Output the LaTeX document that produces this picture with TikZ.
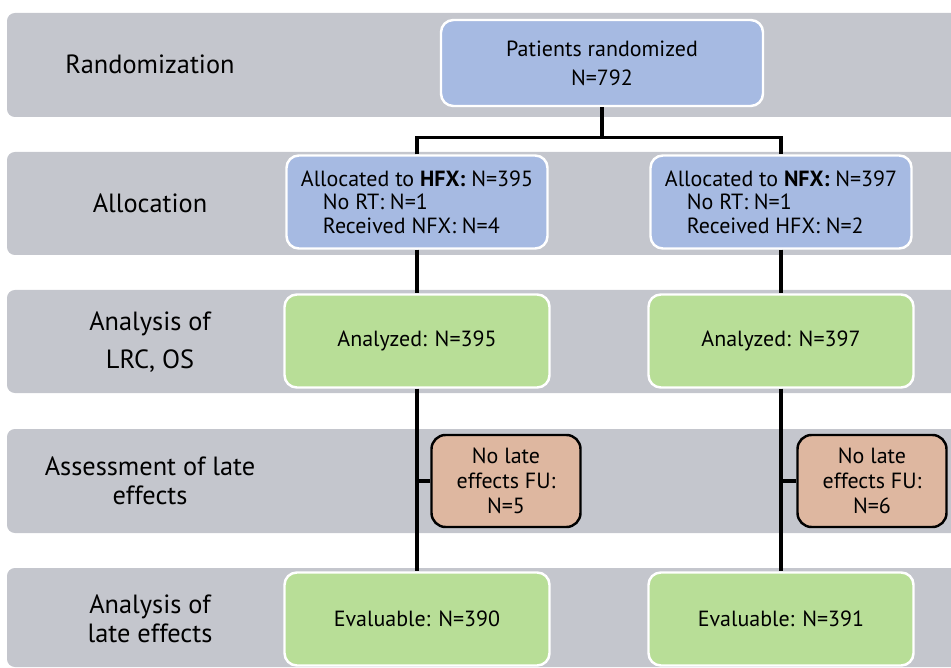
\documentclass[tikz,border=0pt]{standalone}
\usepackage{fontspec}
\setmainfont{PT Sans}
\definecolor{bandgray}{HTML}{C4C6CD}
\definecolor{randblue}{HTML}{A6BAE2}
\definecolor{okgreen}{HTML}{B8DE97}
\definecolor{lossorange}{HTML}{DEB7A0}
\tikzset{
  band/.style={fill=bandgray, rounded corners=4.5pt},
  phase/.style={align=center, inner sep=0pt, font=\fontsize{15}{16.4}\selectfont},
  flowbox/.style={draw=white, line width=1.4pt, rounded corners=7pt, inner sep=0pt,
                  font=\fontsize{12.5}{13.3}\selectfont},
  bluebox/.style={flowbox, fill=randblue, minimum width=52.2mm, minimum height=18.6mm, align=left},
  greenbox/.style={flowbox, fill=okgreen, minimum width=53mm, minimum height=18.6mm},
  lossbox/.style={flowbox, draw=black, fill=lossorange, minimum width=29.8mm, minimum height=18.4mm,
                  rounded corners=8pt, align=center, font=\fontsize{12.5}{14.2}\selectfont},
  conn/.style={line width=1.8pt},
}

\begin{document}
\begin{tikzpicture}[x=0.2mm, y=-0.2mm]
    \useasboundingbox (0,0) rectangle (951,668);
    \clip (0,0) rectangle (951,668);
    \foreach \ya/\yb in {13/117, 152/255, 290/393, 429/533, 568/667}
      \fill[band] (7,\ya) rectangle (975,\yb);
    \node[phase] (lrand) at (150,64) {Randomization};
    \node[phase] (lalloc) at (150,203) {Allocation};
    \node[phase] (llrc) at (150,342) {Analysis of\\[5pt]LRC, OS};
    \node[phase] (lfu) at (150,481) {Assessment of late\\effects};
    \node[phase] (llate) at (150,619) {Analysis of\\late effects};
    \node[bluebox, minimum width=64.4mm, minimum height=17.2mm, align=center,
          font=\fontsize{12.5}{16.4}\selectfont] (rand) at (602,63) {Patients randomized\\N=792};
    \node[bluebox] (hfx) at (417,202) {Allocated to \textbf{HFX:} N=395\\
      \hspace*{4.4mm}No RT: N=1\\\hspace*{4.4mm}Received NFX: N=4};
    \node[bluebox] (nfx) at (781,202) {Allocated to \textbf{NFX:} N=397\\
      \hspace*{4.4mm}No RT: N=1\\\hspace*{4.4mm}Received HFX: N=2};
    \node[greenbox] (lrchfx) at (417,341) {Analyzed: N=395};
    \node[greenbox] (lrcnfx) at (781,341) {Analyzed: N=397};
    \node[lossbox] (fuhfx) at (506,481) {No late\\effects FU:\\N=5};
    \node[lossbox] (funfx) at (872,481) {No late\\effects FU:\\N=6};
    \node[greenbox] (evalhfx) at (417,619) {Evaluable: N=390};
    \node[greenbox] (evalnfx) at (781,619) {Evaluable: N=391};
    \path (rand.south) ++(0,30) coordinate (split);
    \draw[conn] (rand.south) -- (split);
    \draw[conn] (hfx.north) |- (split) -| (nfx.north);
    \draw[conn] (hfx) -- (lrchfx);
    \draw[conn] (nfx) -- (lrcnfx);
    \draw[conn] (lrchfx) -- (evalhfx);
    \draw[conn] (lrcnfx) -- (evalnfx);
    \draw[conn] (fuhfx) -- (fuhfx -| lrchfx);
    \draw[conn] (funfx) -- (funfx -| lrcnfx);
\end{tikzpicture}
\end{document}
